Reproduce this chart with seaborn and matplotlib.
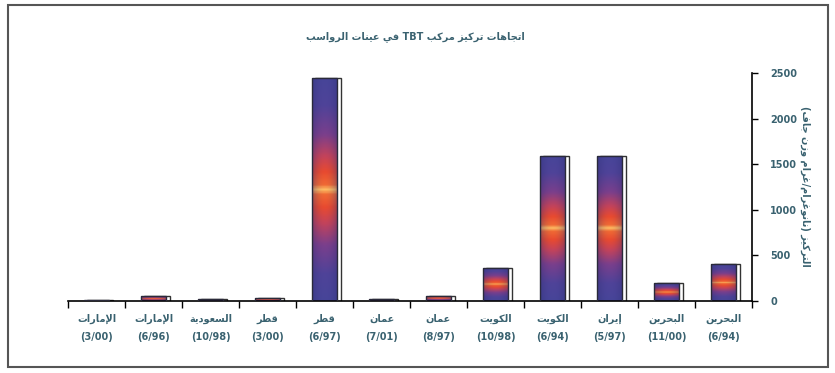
import numpy as np
import pandas as pd
import matplotlib
matplotlib.use("Agg")
import matplotlib.pyplot as plt
import seaborn as sns
from matplotlib.colors import LinearSegmentedColormap, to_rgb
from matplotlib.patches import Rectangle

# ---------------- data ----------------
sites = ["الإمارات", "الإمارات", "السعودية", "قطر", "قطر", "عمان", "عمان",
         "الكويت", "الكويت", "إيران", "البحرين", "البحرين"]
dates = ["(3/00)", "(6/96)", "(10/98)", "(3/00)", "(6/97)", "(7/01)", "(8/97)",
         "(10/98)", "(6/94)", "(5/97)", "(11/00)", "(6/94)"]
values = [10, 50, 25, 30, 2440, 25, 55, 365, 1595, 1595, 195, 405]
y_ticks = [0, 500, 1000, 1500, 2000, 2500]
title_text = "اتجاهات تركيز مركب TBT في عينات الرواسب"
ylabel_text = "التركيز (نانوغرام/غرام وزن جاف)"

# ------------- minimal Arabic shaping (presentation forms) -------------
def _f(base, n):
    return tuple(chr(base + i) for i in range(n))

FORMS = {
    'ا': _f(0xFE8D, 2), 'أ': _f(0xFE83, 2), 'إ': _f(0xFE87, 2), 'آ': _f(0xFE81, 2),
    'ب': _f(0xFE8F, 4), 'ة': _f(0xFE93, 2), 'ت': _f(0xFE95, 4), 'ث': _f(0xFE99, 4),
    'ج': _f(0xFE9D, 4), 'ح': _f(0xFEA1, 4), 'خ': _f(0xFEA5, 4), 'د': _f(0xFEA9, 2),
    'ذ': _f(0xFEAB, 2), 'ر': _f(0xFEAD, 2), 'ز': _f(0xFEAF, 2), 'س': _f(0xFEB1, 4),
    'ش': _f(0xFEB5, 4), 'ص': _f(0xFEB9, 4), 'ض': _f(0xFEBD, 4), 'ط': _f(0xFEC1, 4),
    'ظ': _f(0xFEC5, 4), 'ع': _f(0xFEC9, 4), 'غ': _f(0xFECD, 4), 'ف': _f(0xFED1, 4),
    'ق': _f(0xFED5, 4), 'ك': _f(0xFED9, 4), 'ل': _f(0xFEDD, 4), 'م': _f(0xFEE1, 4),
    'ن': _f(0xFEE5, 4), 'ه': _f(0xFEE9, 4), 'و': _f(0xFEED, 2), 'ى': _f(0xFEEF, 2),
    'ي': _f(0xFEF1, 4),
}
LAM_ALEF = {'ا': _f(0xFEFB, 2), 'أ': _f(0xFEF7, 2), 'إ': _f(0xFEF9, 2), 'آ': _f(0xFEF5, 2)}
MIRROR = {'(': ')', ')': '('}


def shape_word(w):
    units = []
    i = 0
    while i < len(w):
        c = w[i]
        if c == 'ل' and i + 1 < len(w) and w[i + 1] in LAM_ALEF:
            units.append(('LA', w[i + 1]))
            i += 2
        else:
            units.append(('C', c))
            i += 1

    def dual(u):
        return u[0] == 'C' and u[1] in FORMS and len(FORMS[u[1]]) == 4

    def arabic(u):
        return u[0] == 'LA' or u[1] in FORMS

    out = []
    for k, u in enumerate(units):
        prev = units[k - 1] if k > 0 else None
        nxt = units[k + 1] if k + 1 < len(units) else None
        pc = prev is not None and dual(prev)
        if u[0] == 'LA':
            out.append(LAM_ALEF[u[1]][1 if pc else 0])
            continue
        c = u[1]
        if c not in FORMS:
            out.append(c)
            continue
        f = FORMS[c]
        nc = nxt is not None and arabic(nxt) and len(f) == 4
        if pc and nc:
            out.append(f[3])
        elif pc:
            out.append(f[1])
        elif nc:
            out.append(f[2])
        else:
            out.append(f[0])
    return out


def rtl(text):
    vis = []
    for w in text.split(' '):
        if any(ch in FORMS for ch in w):
            g = shape_word(w)[::-1]
            vis.append(''.join(MIRROR.get(ch, ch) for ch in g))
        else:
            vis.append(w)
    return ' '.join(vis[::-1])


# ---------------- figure ----------------
sns.set_style("white")
plt.rcParams['font.family'] = ['DejaVu Sans']
TXT = '#3a6270'

labels = [f"{rtl(s)}\n{d}" for s, d in zip(sites, dates)]
df = pd.DataFrame({"label": labels, "value": values})

fig = plt.figure(figsize=(8.35, 3.73), dpi=100)
fig.patch.set_facecolor('white')
ax = fig.add_axes([68 / 835, 72 / 373, 684 / 835, 228 / 373])

sns.barplot(data=df, x="label", y="value", order=labels, ax=ax, width=0.45,
            color='#454398', edgecolor='#2a2a3a', linewidth=1.0, saturation=1)

ax.set_xlim(-0.5, len(labels) - 0.5)
ax.set_ylim(0, 2500)

# gradient fill inside each bar + offset white "3D" box behind it
stops = [(0.0, '#474599'), (0.12, '#4f4399'), (0.25, '#7a3f8c'), (0.35, '#c4435a'),
         (0.42, '#e84a30'), (0.48, '#f06a34'), (0.5, '#ffc468'), (0.52, '#f06a34'),
         (0.58, '#e84a30'), (0.65, '#c4435a'), (0.75, '#7a3f8c'), (0.88, '#4f4399'),
         (1.0, '#474599')]
cmap = LinearSegmentedColormap.from_list('bar', stops)
ny, nx = 300, 40
yy = np.linspace(0, 1, ny)[:, None]
xx = np.linspace(0, 1, nx)[None, :]
base = cmap(np.repeat(yy, nx, axis=1))[..., :3]
dark = np.array(to_rgb('#2c2d72'))
blend = (np.abs(xx - 0.5) * 2) ** 2 * 0.4
grad = base * (1 - blend[..., None]) + dark * blend[..., None]

for p in list(ax.patches):
    x0, w, h = p.get_x(), p.get_width(), p.get_height()
    sh = Rectangle((x0 + w * 0.14, 0), w, h, facecolor='white', edgecolor='#333333',
                   linewidth=1.0, zorder=1.5)
    ax.add_patch(sh)
    p.set_zorder(3)
    p.set_facecolor('none')
    im = ax.imshow(grad, extent=[x0, x0 + w, 0, h], origin='lower', aspect='auto',
                   zorder=2.5, interpolation='bilinear')
    im.set_clip_path(p)

ax.set_xlim(-0.5, len(labels) - 0.5)
ax.set_ylim(0, 2500)

# spines
for s in ['left', 'top']:
    ax.spines[s].set_visible(False)
for s in ['bottom', 'right']:
    ax.spines[s].set_color('black')
    ax.spines[s].set_linewidth(1.2)

# x axis
ax.set_xticks(range(len(labels)))
ax.set_xticklabels(labels, fontsize=7, fontweight='bold', color=TXT, linespacing=2.0)
ax.set_xticks(np.arange(-0.5, len(labels), 1.0), minor=True)
ax.tick_params(axis='x', which='major', length=0, pad=9)
ax.tick_params(axis='x', which='minor', length=5, width=1.0, color='black',
               direction='out', bottom=True)
ax.set_xlabel('')

# y axis on the right
ax.yaxis.tick_right()
ax.set_yticks(y_ticks)
ax.set_yticklabels([str(v) for v in y_ticks], fontsize=7, fontweight='bold', color=TXT)
ax.tick_params(axis='y', length=4, width=1.0, color='black', direction='out', pad=9,
               left=False, right=True)
ax.set_ylabel('')

fig.text(805 / 835, 0.5, rtl(ylabel_text), rotation=270, ha='center', va='center',
         fontsize=7, fontweight='bold', color=TXT)
fig.text(415 / 835, 1 - 37 / 373, rtl(title_text), ha='center', va='center',
         fontsize=7, fontweight='bold', color=TXT)

# outer frame
fig.patches.append(Rectangle((8 / 835, 6 / 373), 820 / 835, 362 / 373,
                             transform=fig.transFigure, fill=False,
                             edgecolor='#555555', linewidth=1.5))

fig.savefig('out.png', dpi=100, facecolor='white')
